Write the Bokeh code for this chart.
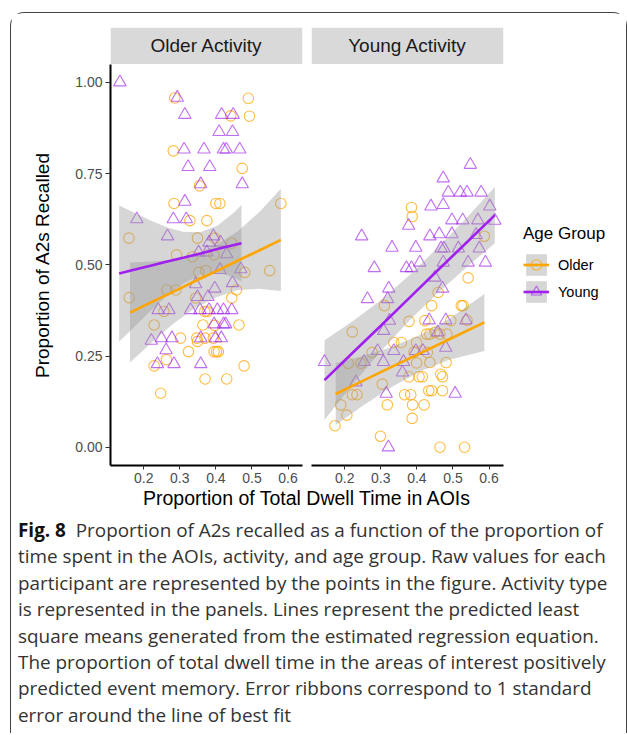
from bokeh.plotting import figure
from bokeh.layouts import column, row
from bokeh.models import Range1d, FixedTicker, Legend, LegendItem, Div, PrintfTickFormatter
from bokeh.embed import file_html
from bokeh.resources import INLINE
from bokeh.core.properties import value

# ---------------- data ----------------
panel_titles = ["Older Activity", "Young Activity"]
x_ticks = [0.2, 0.3, 0.4, 0.5, 0.6]
y_ticks = [0.0, 0.25, 0.5, 0.75, 1.0]

# Panel 1 (Older Activity) - Older participants (circles)
p1_older_x = [0.286, 0.490, 0.441, 0.493, 0.282, 0.473, 0.355, 0.284, 0.400, 0.411, 0.580, 0.328, 0.375,
              0.159, 0.349, 0.397, 0.444, 0.291, 0.335, 0.395, 0.353, 0.372, 0.480, 0.549, 0.160, 0.264,
              0.289, 0.457, 0.344, 0.444, 0.256, 0.369, 0.376, 0.229, 0.364, 0.464, 0.397, 0.302, 0.347,
              0.349, 0.370, 0.393, 0.324, 0.395, 0.402, 0.407, 0.263, 0.229, 0.478, 0.370, 0.430, 0.247]
p1_older_y = [0.957, 0.956, 0.908, 0.907, 0.812, 0.764, 0.716, 0.668, 0.668, 0.668, 0.668, 0.621, 0.621,
              0.573, 0.573, 0.573, 0.559, 0.527, 0.522, 0.527, 0.479, 0.484, 0.479, 0.484, 0.410, 0.431,
              0.431, 0.431, 0.409, 0.409, 0.372, 0.372, 0.372, 0.335, 0.335, 0.335, 0.334, 0.299, 0.299,
              0.290, 0.299, 0.299, 0.262, 0.262, 0.262, 0.262, 0.240, 0.223, 0.223, 0.187, 0.187, 0.148]
# Panel 1 - Young participants (triangles)
p1_young_x = [0.134, 0.293, 0.314, 0.416, 0.448, 0.409, 0.446, 0.312, 0.367, 0.421, 0.429, 0.466, 0.323,
              0.383, 0.358, 0.473, 0.314, 0.181, 0.282, 0.318, 0.266, 0.393, 0.381, 0.413, 0.352, 0.375,
              0.430, 0.411, 0.469, 0.344, 0.397, 0.446, 0.349, 0.378, 0.240, 0.270, 0.330, 0.356, 0.381,
              0.404, 0.421, 0.444, 0.395, 0.421, 0.427, 0.221, 0.249, 0.278, 0.358, 0.399, 0.415, 0.262,
              0.238, 0.284, 0.358]
p1_young_y = [1.000, 0.958, 0.911, 0.911, 0.911, 0.864, 0.864, 0.816, 0.816, 0.816, 0.816, 0.816, 0.768,
              0.768, 0.721, 0.721, 0.673, 0.625, 0.625, 0.625, 0.578, 0.578, 0.561, 0.561, 0.534, 0.534,
              0.529, 0.486, 0.488, 0.447, 0.435, 0.450, 0.412, 0.412, 0.376, 0.376, 0.376, 0.376, 0.376,
              0.376, 0.376, 0.376, 0.337, 0.337, 0.337, 0.292, 0.299, 0.299, 0.299, 0.299, 0.299, 0.266,
              0.228, 0.228, 0.228]

# Panel 2 (Young Activity) - Older participants (circles)
p2_older_x = [0.385, 0.387, 0.587, 0.542, 0.459, 0.310, 0.441, 0.523, 0.528, 0.221, 0.378, 0.422, 0.494,
              0.539, 0.427, 0.436, 0.450, 0.464, 0.483, 0.336, 0.357, 0.399, 0.276, 0.392, 0.429, 0.210,
              0.245, 0.399, 0.436, 0.481, 0.378, 0.406, 0.415, 0.466, 0.471, 0.304, 0.221, 0.234, 0.366,
              0.383, 0.433, 0.441, 0.471, 0.189, 0.318, 0.388, 0.420, 0.206, 0.387, 0.173, 0.299, 0.464,
              0.532]
p2_older_y = [0.657, 0.632, 0.578, 0.464, 0.424, 0.388, 0.388, 0.388, 0.388, 0.316, 0.345, 0.347, 0.347,
              0.348, 0.310, 0.310, 0.315, 0.310, 0.310, 0.287, 0.287, 0.287, 0.260, 0.260, 0.260, 0.230,
              0.230, 0.231, 0.232, 0.232, 0.193, 0.193, 0.193, 0.200, 0.193, 0.173, 0.144, 0.144, 0.144,
              0.144, 0.155, 0.155, 0.155, 0.116, 0.116, 0.116, 0.116, 0.088, 0.079, 0.059, 0.030, 0.000,
              0.000]
# Panel 2 - Young participants (triangles)
p2_young_x = [0.548, 0.473, 0.487, 0.520, 0.539, 0.578, 0.439, 0.473, 0.602, 0.377, 0.497, 0.527, 0.569,
              0.616, 0.247, 0.436, 0.462, 0.497, 0.564, 0.331, 0.397, 0.467, 0.475, 0.515, 0.573, 0.282,
              0.371, 0.385, 0.408, 0.473, 0.542, 0.590, 0.450, 0.322, 0.471, 0.263, 0.319, 0.324, 0.434,
              0.480, 0.536, 0.308, 0.458, 0.291, 0.336, 0.397, 0.417, 0.480, 0.144, 0.254, 0.307, 0.363,
              0.360, 0.231, 0.315, 0.506, 0.321]
p2_young_y = [0.774, 0.737, 0.698, 0.698, 0.698, 0.698, 0.660, 0.664, 0.660, 0.607, 0.622, 0.622, 0.622,
              0.621, 0.578, 0.578, 0.584, 0.584, 0.582, 0.547, 0.547, 0.545, 0.545, 0.545, 0.545, 0.491,
              0.491, 0.491, 0.506, 0.506, 0.506, 0.506, 0.465, 0.435, 0.435, 0.406, 0.406, 0.347, 0.348,
              0.348, 0.348, 0.319, 0.315, 0.264, 0.264, 0.264, 0.264, 0.273, 0.234, 0.234, 0.234, 0.234,
              0.205, 0.178, 0.147, 0.147, 0.000]

# Predicted means with error ribbons
p1_older_fx = [0.162, 0.22, 0.28, 0.34, 0.40, 0.46, 0.52, 0.58]
p1_older_fit = [0.369, 0.397, 0.425, 0.454, 0.482, 0.511, 0.539, 0.568]
p1_older_lo = [0.232, 0.285, 0.337, 0.380, 0.410, 0.431, 0.434, 0.428]
p1_older_hi = [0.506, 0.509, 0.513, 0.528, 0.554, 0.591, 0.644, 0.708]

p1_young_fx = [0.132, 0.173, 0.219, 0.265, 0.312, 0.358, 0.404, 0.450, 0.471]
p1_young_fit = [0.476, 0.486, 0.497, 0.509, 0.520, 0.531, 0.543, 0.554, 0.559]
p1_young_lo = [0.290, 0.329, 0.373, 0.416, 0.450, 0.472, 0.479, 0.465, 0.454]
p1_young_hi = [0.662, 0.643, 0.621, 0.602, 0.590, 0.590, 0.607, 0.643, 0.664]

p2_older_fx = [0.175, 0.25, 0.33, 0.41, 0.49, 0.587]
p2_older_fit = [0.146, 0.182, 0.220, 0.258, 0.296, 0.342]
p2_older_lo = [0.061, 0.114, 0.165, 0.208, 0.240, 0.264]
p2_older_hi = [0.231, 0.250, 0.275, 0.308, 0.352, 0.420]

p2_young_fx = [0.144, 0.22, 0.30, 0.38, 0.46, 0.54, 0.616]
p2_young_fit = [0.184, 0.257, 0.333, 0.410, 0.487, 0.563, 0.636]
p2_young_lo = [0.075, 0.170, 0.263, 0.348, 0.425, 0.495, 0.559]
p2_young_hi = [0.293, 0.344, 0.403, 0.472, 0.549, 0.631, 0.713]

legend_title = "Age Group"
legend_labels = ["Older", "Young"]
y_title = "Proportion of A2s Recalled"
x_title = "Proportion of Total Dwell Time in AOIs"
caption_first = "Proportion of A2s recalled as a function of the proportion of"
caption_lines = [
    "time spent in the AOIs, activity, and age group. Raw values for each",
    "participant are represented by the points in the figure. Activity type",
    "is represented in the panels. Lines represent the predicted least",
    "square means generated from the estimated regression equation.",
    "The proportion of total dwell time in the areas of interest positively",
    "predicted event memory. Error ribbons correspond to 1 standard",
    "error around the line of best fit",
]

# ---------------- style ----------------
ORANGE = "#FFA500"
PURPLE = "#A020F0"
RIBBON = "#999999"
FONT = "Liberation Sans"
X_START, X_END = 0.108, 0.640
Y_START, Y_PANEL_TOP, Y_STRIP_TOP = -0.05, 1.05, 1.15
H = 478


def style_point_line(p, ox, oy, yx, yy, orib, yrib):
    sc_o = p.scatter(ox, oy, marker="circle", size=10.5, fill_color=None,
                     line_color=ORANGE, line_alpha=0.75, line_width=1.1)
    sc_y = p.scatter(yx, yy, marker="triangle", size=12.5, fill_color=None,
                     line_color=PURPLE, line_alpha=0.65, line_width=1.1)
    rb_o = p.varea(x=orib[0], y1=orib[2], y2=orib[3], fill_color=RIBBON, fill_alpha=0.4)
    rb_y = p.varea(x=yrib[0], y1=yrib[2], y2=yrib[3], fill_color=RIBBON, fill_alpha=0.4)
    ln_o = p.line(orib[0], orib[1], line_color=ORANGE, line_width=2.6)
    ln_y = p.line(yrib[0], yrib[1], line_color=PURPLE, line_width=2.6)
    return (rb_o, ln_o, sc_o), (rb_y, ln_y, sc_y)


def make_panel(title, ox, oy, yx, yy, orib, yrib, width, left, right, show_y):
    p = figure(width=width, height=H, title=None,
               x_range=Range1d(X_START, X_END), y_range=Range1d(Y_START, Y_STRIP_TOP),
               output_backend="svg", toolbar_location=None,
               min_border_left=left, min_border_right=right, min_border_top=14, min_border_bottom=26)
    p.margin = 0
    p.outline_line_color = None
    p.grid.visible = False
    p.background_fill_color = "white"
    p.border_fill_color = "white"

    # facet strip
    p.quad(left=[X_START], right=[X_END], bottom=[Y_PANEL_TOP], top=[Y_STRIP_TOP],
           fill_color="#d9d9d9", line_color=None)
    p.text(x=[(X_START + X_END) / 2], y=[(Y_PANEL_TOP + Y_STRIP_TOP) / 2], text=[title],
           text_align="center", text_baseline="middle", text_font=value(FONT),
           text_font_size="19px", text_color="#1a1a1a")

    style_point_line(p, ox, oy, yx, yy, orib, yrib)

    ax = p.xaxis[0]
    ax.ticker = FixedTicker(ticks=x_ticks)
    ax.formatter = PrintfTickFormatter(format="%.1f")
    ax.axis_line_color = "black"
    ax.axis_line_width = 2
    ax.major_tick_line_color = "#333333"
    ax.major_tick_out = 4
    ax.major_tick_in = 0
    ax.minor_tick_line_color = None
    ax.major_label_standoff = 3
    ax.major_label_text_font = FONT
    ax.major_label_text_font_size = "14px"
    ax.major_label_text_color = "#4d4d4d"

    ay = p.yaxis[0]
    if show_y:
        ay.ticker = FixedTicker(ticks=y_ticks)
        ay.formatter = PrintfTickFormatter(format="%.2f")
        ay.bounds = (Y_START, Y_PANEL_TOP)
        ay.axis_line_color = "black"
        ay.axis_line_width = 2
        ay.major_tick_line_color = "#333333"
        ay.major_tick_out = 5
        ay.major_tick_in = 0
        ay.minor_tick_line_color = None
        ay.major_label_standoff = 3
        ay.major_label_text_font = FONT
        ay.major_label_text_font_size = "14px"
        ay.major_label_text_color = "#4d4d4d"
        # trailing no-break spaces centre the title on the data panel (below the strip)
        ay.axis_label = y_title + "\u00a0" * 7
        ay.axis_label_text_font = FONT
        ay.axis_label_text_font_size = "19px"
        ay.axis_label_text_font_style = "normal"
        ay.axis_label_text_color = "black"
        ay.axis_label_standoff = 19
    else:
        ay.visible = False
    return p


p1 = make_panel(panel_titles[0], p1_older_x, p1_older_y, p1_young_x, p1_young_y,
                (p1_older_fx, p1_older_fit, p1_older_lo, p1_older_hi),
                (p1_young_fx, p1_young_fit, p1_young_lo, p1_young_hi),
                width=295, left=99, right=4, show_y=True)
p2 = make_panel(panel_titles[1], p2_older_x, p2_older_y, p2_young_x, p2_young_y,
                (p2_older_fx, p2_older_fit, p2_older_lo, p2_older_hi),
                (p2_young_fx, p2_young_fit, p2_young_lo, p2_young_hi),
                width=201, left=5, right=4, show_y=False)

# legend panel: same glyph styles, data kept outside its (empty) view window
p3 = figure(width=119, height=H, title=None, x_range=Range1d(5, 6), y_range=Range1d(5, 6),
            x_axis_type=None, y_axis_type=None, output_backend="svg", toolbar_location=None,
            min_border_left=0, min_border_right=0, min_border_top=0, min_border_bottom=0)
p3.margin = 0
p3.outline_line_color = None
p3.grid.visible = False
p3.border_fill_color = "white"
r_old, r_young = style_point_line(p3, p2_older_x, p2_older_y, p2_young_x, p2_young_y,
                                  (p2_older_fx, p2_older_fit, p2_older_lo, p2_older_hi),
                                  (p2_young_fx, p2_young_fit, p2_young_lo, p2_young_hi))

legend = Legend(items=[LegendItem(label=legend_labels[0], renderers=list(r_old)),
                       LegendItem(label=legend_labels[1], renderers=list(r_young))],
                title=legend_title, location=(16, 160))
legend.title_text_font = FONT
legend.title_text_font_size = "17px"
legend.title_text_font_style = "normal"
legend.title_text_color = "black"
legend.title_standoff = 7
legend.label_text_font = FONT
legend.label_text_font_size = "14.5px"
legend.label_text_color = "black"
legend.glyph_width = 26
legend.glyph_height = 27
legend.label_height = 27
legend.label_standoff = 9
legend.spacing = 0
legend.padding = 0
legend.margin = 0
legend.border_line_color = None
legend.background_fill_alpha = 0
p3.add_layout(legend)

xtitle = Div(text='<div style="width:591px;text-align:center;font-family:\'Liberation Sans\';'
                  'font-size:19.5px;line-height:14px;color:#000;white-space:nowrap">'
                  + x_title + '</div>',
             width=591, height=14, margin=0)

cap_html = ('<div style="font-family:\'Open Sans\';font-size:18.9px;line-height:26.4px;color:#333;'
            'white-space:nowrap;padding-left:7px;padding-top:12px">'
            '<span style="font-weight:700;color:#111">Fig.&nbsp;8</span>&nbsp;&nbsp;' + caption_first + '<br>'
            + '<br>'.join(caption_lines) + '</div>')
caption = Div(text=cap_html, width=615, height=228, margin=0)

layout = column(row(p1, p2, p3, spacing=0), xtitle, caption, spacing=0, margin=(12, 0, 0, 10),
                styles={"border-left": "1px solid #444", "border-top": "1px solid #444",
                        "border-right": "1px solid #444",
                        "border-top-left-radius": "14px", "border-top-right-radius": "14px"})

open("out.html", "w").write(file_html(layout, INLINE))
